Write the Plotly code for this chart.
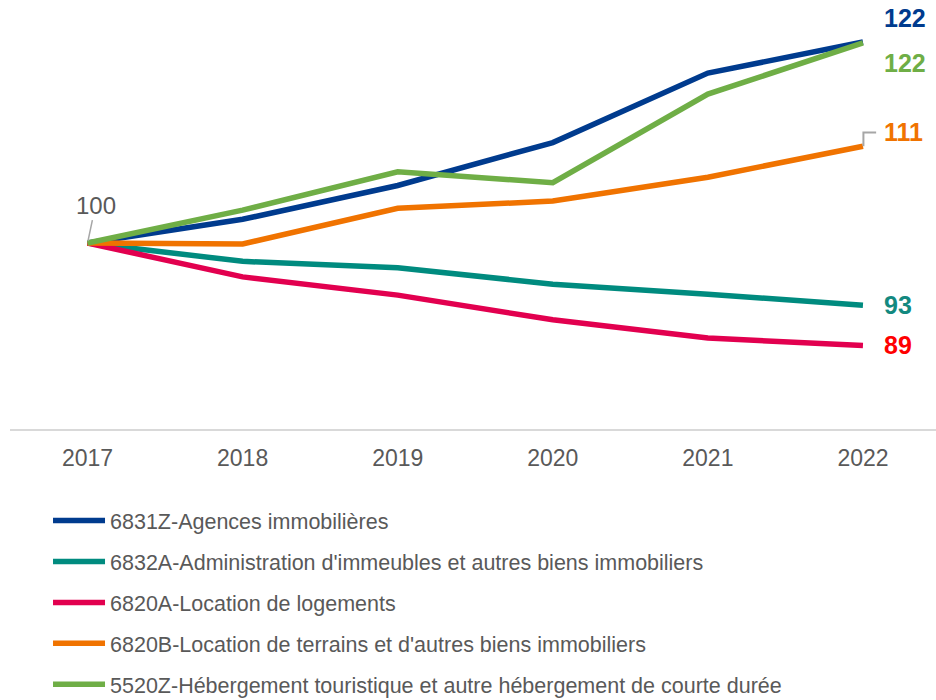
import plotly.graph_objects as go

years = [2017, 2018, 2019, 2020, 2021, 2022]

names = [
    "6831Z-Agences immobilières",
    "6832A-Administration d'immeubles et autres biens immobiliers",
    "6820A-Location de logements",
    "6820B-Location de terrains et d'autres biens immobiliers",
    "5520Z-Hébergement touristique et autre hébergement de courte durée",
]

agences = [100, 102.6, 106.3, 111.0, 118.6, 122.0]
administration = [100, 98.0, 97.3, 95.5, 94.4, 93.2]
logements = [100, 96.3, 94.3, 91.6, 89.6, 88.8]
terrains = [100, 99.9, 103.8, 104.6, 107.2, 110.6]
hebergement = [100, 103.6, 107.8, 106.6, 116.3, 121.9]

series = [agences, administration, logements, terrains, hebergement]
line_colors = ["#003b8e", "#008b7f", "#e2004f", "#f07300", "#6fae46"]
label_colors = ["#003b8e", "#13897f", "#ff0000", "#f07300", "#6fae46"]
label_yshift = [24, 0, 0, 14, -20]

FONT = "Arial, 'Liberation Sans', sans-serif"

fig = go.Figure()
for i, (name, vals, col) in enumerate(zip(names, series, line_colors)):
    fig.add_trace(go.Scatter(
        x=years, y=vals, name=name, mode="lines",
        line=dict(color=col, width=5.5),
        legendgroup=str(i),
        hoverinfo="skip",
    ))

annotations = []
# End labels
for i, vals in enumerate(series):
    annotations.append(dict(
        x=years[-1], y=vals[-1], xref="x", yref="y",
        text="<b>%d</b>" % round(vals[-1]),
        showarrow=False, xanchor="left", yanchor="middle",
        xshift=19, yshift=label_yshift[i],
        font=dict(family=FONT, size=25, color=label_colors[i]),
    ))
# Start label "100" with leader
annotations.append(dict(
    x=years[0], y=agences[0], xref="x", yref="y",
    text="%d" % agences[0], showarrow=True, arrowhead=0,
    arrowcolor="#a6a6a6", arrowwidth=1.5, ax=8, ay=-38,
    standoff=2,
    font=dict(family=FONT, size=24, color="#595959"),
))

# elbow leader for the orange end label
last_o = terrains[-1]
shapes = [dict(
    type="path", xref="x", yref="y",
    path="M %s,%s L %s,%s L %s,%s" % (
        years[-1] + 0.003, last_o, years[-1] + 0.003, last_o + 1.5,
        years[-1] + 0.085, last_o + 1.5),
    line=dict(color="#a6a6a6", width=2),
)]

fig.update_layout(
    width=936, height=700,
    margin=dict(l=10, r=0, t=0, b=271, autoexpand=False),
    paper_bgcolor="white", plot_bgcolor="white",
    font=dict(family=FONT, color="#595959"),
    showlegend=True,
    legend=dict(
        xref="container", yref="container",
        x=0.0513, y=0.2857, xanchor="left", yanchor="top",
        orientation="v", font=dict(family=FONT, size=21.5, color="#595959"),
        tracegroupgap=10, itemwidth=52, bgcolor="rgba(0,0,0,0)",
    ),
    xaxis=dict(
        range=[2016.5, 2022.471], tickvals=years, ticktext=[str(y) for y in years],
        showgrid=False, zeroline=False, showline=True, linecolor="#d9d9d9",
        linewidth=2, ticks="", ticklabelstandoff=7,
        tickfont=dict(family=FONT, size=23, color="#595959"),
    ),
    yaxis=dict(
        range=[79.65, 126.6], visible=False, showgrid=False, zeroline=False,
    ),
    annotations=annotations,
    shapes=shapes,
)

fig.write_html("out.html")
